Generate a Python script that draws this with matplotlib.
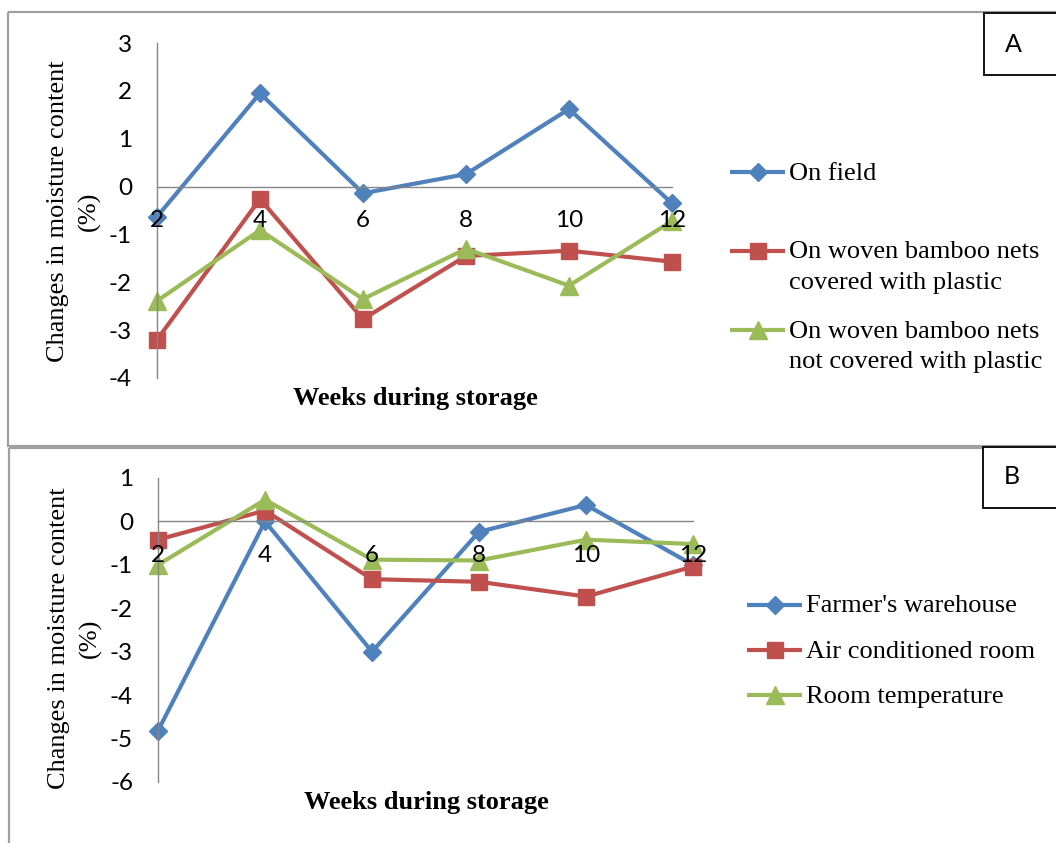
#!/usr/bin/env python3
"""Changes in moisture content during storage: panel A (drying method),
panel B (storage place). Excel-style line charts with a boxed tag each."""
import matplotlib
matplotlib.use("Agg")
import matplotlib.pyplot as plt
from matplotlib.patches import Rectangle

W, H = 1056, 843   # output size in px (dpi 100)

weeks = [2, 4, 6, 8, 10, 12]

# panel A
a_labels = ["On field",
            "On woven bamboo nets\ncovered with plastic",
            "On woven bamboo nets\nnot covered with plastic"]
a_on_field = [-0.63, 1.95, -0.14, 0.26, 1.62, -0.35]
a_covered = [-3.2, -0.26, -2.77, -1.45, -1.34, -1.57]
a_not_covered = [-2.39, -0.91, -2.35, -1.30, -2.07, -0.72]
a_yticks = [-4, -3, -2, -1, 0, 1, 2, 3]

# panel B
b_labels = ["Farmer's warehouse", "Air conditioned room", "Room temperature"]
b_farmer = [-4.82, 0.0, -3.0, -0.24, 0.38, -1.0]
b_air = [-0.42, 0.25, -1.33, -1.39, -1.73, -1.04]
b_room = [-1.0, 0.5, -0.88, -0.9, -0.42, -0.52]
b_yticks = [-6, -5, -4, -3, -2, -1, 0, 1]

ylabel = "Changes in moisture content\n(%)"
xlabel = "Weeks during storage"

COLORS = ["#4F81BD", "#C0504D", "#9BBB59"]
MARKERS = [("D", 9), ("s", 12), ("^", 13)]
SERIF = "Liberation Serif"
SANS = "Lato"
AXIS_GREY = "#868686"
BORDER = "#a0a0a0"

plt.rcParams["font.family"] = SANS
plt.rcParams["axes.unicode_minus"] = False


def px_rect(x0, y0, x1, y1):
    """pixel box (top-left origin) -> figure fraction rect"""
    return [x0 / W, 1 - y1 / H, (x1 - x0) / W, (y1 - y0) / H]


def draw_panel(fig, lax, rect, series, labels, yticks, geo):
    ax = fig.add_axes(px_rect(*rect))
    ax.patch.set_visible(False)
    for vals, c, (m, ms) in zip(series, COLORS, MARKERS):
        ax.plot(weeks, vals, color=c, lw=3, marker=m, ms=ms, mfc=c, mec=c,
                solid_joinstyle="round", clip_on=False, zorder=2)
    ax.set_xlim(weeks[0], weeks[-1])
    ax.set_ylim(yticks[0], yticks[-1])
    ax.set_xticks(weeks)
    ax.set_yticks(yticks)
    for s in ("top", "right"):
        ax.spines[s].set_visible(False)
    ax.spines["bottom"].set_position(("data", 0))
    for s in ("left", "bottom"):
        ax.spines[s].set_color(AXIS_GREY)
        ax.spines[s].set_linewidth(1.0)
    ax.tick_params(axis="both", length=0, labelsize=17.5, labelcolor="black")
    ax.tick_params(axis="y", pad=geo["ypad"])
    ax.tick_params(axis="x", pad=geo["xpad"])
    ax.set_axisbelow(False)

    # axis titles
    lax.text(*geo["ylabel"], ylabel, rotation=90, ha="center", va="center",
             multialignment="center", family=SERIF, fontsize=19,
             linespacing=1.5)
    lax.text(*geo["xlabel"], xlabel, ha="center", va="center",
             family=SERIF, fontsize=19, weight="bold")

    # legend, handle aligned to the first text line like Excel does
    x0, x1, xt = geo["legend_x"]
    for lab, y, c, (m, ms) in zip(labels, geo["legend_y"], COLORS, MARKERS):
        lax.plot([x0, x1], [y, y], color=c, lw=3, solid_capstyle="butt")
        lax.plot([(x0 + x1) / 2], [y], marker=m, ms=ms, color=c, mec=c)
        lax.text(xt, y - 9.5, lab, ha="left", va="top", family=SERIF,
                 fontsize=19, linespacing=1.5)

    # panel frame and tag box
    bx, by, bw, bh = geo["frame"]
    lax.add_patch(Rectangle((bx, by), bw, bh, fill=False, ec=BORDER, lw=1.6))
    tx, ty, tw, th = geo["tag_box"]
    lax.add_patch(Rectangle((tx, ty), tw, th, fc="white", ec="black", lw=1.3))
    lax.text(*geo["tag_xy"], geo["tag"], ha="center", va="center",
             family=SANS, fontsize=18)
    return ax


def main():
    fig = plt.figure(figsize=(W / 100, H / 100), dpi=100, facecolor="white")
    lax = fig.add_axes([0, 0, 1, 1])
    lax.set_xlim(0, W)
    lax.set_ylim(H, 0)
    lax.axis("off")

    geo_a = dict(ypad=18, xpad=17, ylabel=(74, 211), xlabel=(415, 399),
                 legend_x=(730, 785, 789), legend_y=(172, 251, 330),
                 frame=(8, 12, 1100, 434), tag_box=(984, 13, 100, 62),
                 tag_xy=(1013, 44), tag="A")
    geo_b = dict(ypad=18, xpad=17, ylabel=(75, 638), xlabel=(426, 803),
                 legend_x=(747, 802, 806), legend_y=(605, 650, 695),
                 frame=(9, 448, 1100, 500), tag_box=(983, 447, 100, 61),
                 tag_xy=(1012, 476), tag="B")

    draw_panel(fig, lax, (157, 43, 672, 378),
               [a_on_field, a_covered, a_not_covered], a_labels, a_yticks, geo_a)
    draw_panel(fig, lax, (158, 478, 693, 782),
               [b_farmer, b_air, b_room], b_labels, b_yticks, geo_b)

    fig.savefig("out.png", dpi=100)
    plt.close(fig)


if __name__ == "__main__":
    main()
